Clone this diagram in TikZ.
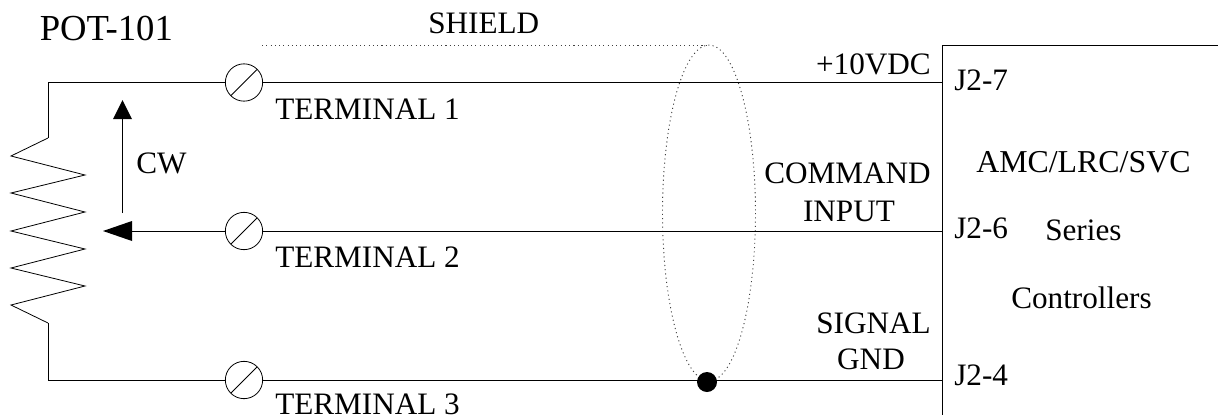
\documentclass[tikz,border=0pt]{standalone}
\usepackage{fontspec}
\usetikzlibrary{calc}
\setmainfont{Liberation Serif}
\begin{document}
\begin{tikzpicture}[x=0.75pt,y=-0.75pt,
  wire/.style={line width=0.75pt,black},
  thin line/.style={line width=0.6pt,black},
  shieldline/.style={line width=0.7pt,black!75,dash pattern=on 0.8pt off 2.4pt},
  term/.style={circle,draw=black,line width=0.6pt,minimum size=28pt,inner sep=0pt,fill=white},
  lbl/.style={font=\fontsize{23.4}{26}\selectfont,inner sep=0pt,text=black},
  wedge/.style={fill=black,draw=none}]
\useasboundingbox (0,0) rectangle (1218,415);
\fill[white] (0,0) rectangle (1218,415);
% shield
\coordinate (s0) at (262,45);
\coordinate (stop) at (707,45);
\draw[shieldline] (s0) -- (stop);
\draw[shieldline] (709,213) ellipse [x radius=46.5,y radius=168];
% wires
\node[term] (t1) at (244,82.5) {};
\node[term] (t2) at (244,231) {};
\node[term] (t3) at (244,380) {};
\coordinate (j7) at (942.5,82.5);
\coordinate (j6) at (942.5,231);
\coordinate (j4) at (942.5,380);
\coordinate (c1) at (48,82.5);
\coordinate (c3) at (48,380);
\coordinate (r1) at (48,138);
\coordinate (r2) at (48,323);
\coordinate (wip) at (132,231);
\draw[wire] (t1) -- (j7);
\draw[wire] (t2) -- (j6);
\draw[wire] (t3) -- (j4);
\draw[wire] (t1) -- (c1) -- (r1);
\draw[wire] (t3) -- (c3) -- (r2);
\draw[wire] (t2) -- (wip);
% resistor
\draw[thin line,line join=miter] (r1) -- (11,156) -- (85,175) -- (11,193) -- (85,212) -- (11,231) -- (85,249) -- (11,268) -- (85,286) -- (11,305) -- (r2);
% wiper and CW arrows
\fill[wedge] (103,231) -- (132,221) -- (132,241) -- cycle;
\coordinate (cw0) at (122.5,213);
\coordinate (cw1) at (122.5,119);
\draw[thin line] (cw0) -- (cw1);
\fill[wedge] (122.5,100) -- (113,119) -- (132,119) -- cycle;
% terminal slashes
\foreach \t in {t1,t2,t3}{
  \draw[thin line] ($(\t)+(-13,13)$) -- ($(\t)+(13,-13)$);
}
% junction
\node[circle,fill=black,minimum size=15pt,inner sep=0pt] (dot) at (707,382) {};
% controller box
\coordinate (b0) at (1218,45);
\coordinate (b1) at (942.5,45);
\coordinate (b2) at (942.5,415);
\draw[wire] (b0) -- (b1) -- (b2);
% labels
\node[font=\fontsize{27.5}{30}\selectfont,anchor=base west,inner sep=0pt] (pot) at (39.5,40) {POT-101};
\node[lbl,anchor=base west] (shield) at (428,33) {SHIELD};
\node[lbl,anchor=base west] (l1) at (275,119) {TERMINAL 1};
\node[lbl,anchor=base west] (l2) at (275,267) {TERMINAL 2};
\node[lbl,anchor=base west] (l3) at (275,414.5) {TERMINAL 3};
\node[lbl,anchor=base west] (cw) at (136,173) {CW};
\node[lbl,anchor=base east] (v) at (931,74) {+10VDC};
\node[lbl,anchor=base east] (cmd) at (931,183) {COMMAND};
\node[lbl,anchor=base] (inp) at (849,221) {INPUT};
\node[lbl,anchor=base east] (sig) at (931,333) {SIGNAL};
\node[lbl,anchor=base] (gnd) at (871,369) {GND};
\node[lbl,anchor=base west] (a) at (954,90) {J2-7};
\node[lbl,anchor=base west] (b) at (954,238) {J2-6};
\node[lbl,anchor=base west] (c) at (954,385) {J2-4};
\node[font=\fontsize{23.9}{26}\selectfont,anchor=base west,inner sep=0pt] (ctl) at (976,172) {AMC/LRC/SVC};
\node[lbl,anchor=base west] (ser) at (1045,240) {Series};
\node[lbl,anchor=base west] (con) at (1011,308) {Controllers};
\end{tikzpicture}
\end{document}
